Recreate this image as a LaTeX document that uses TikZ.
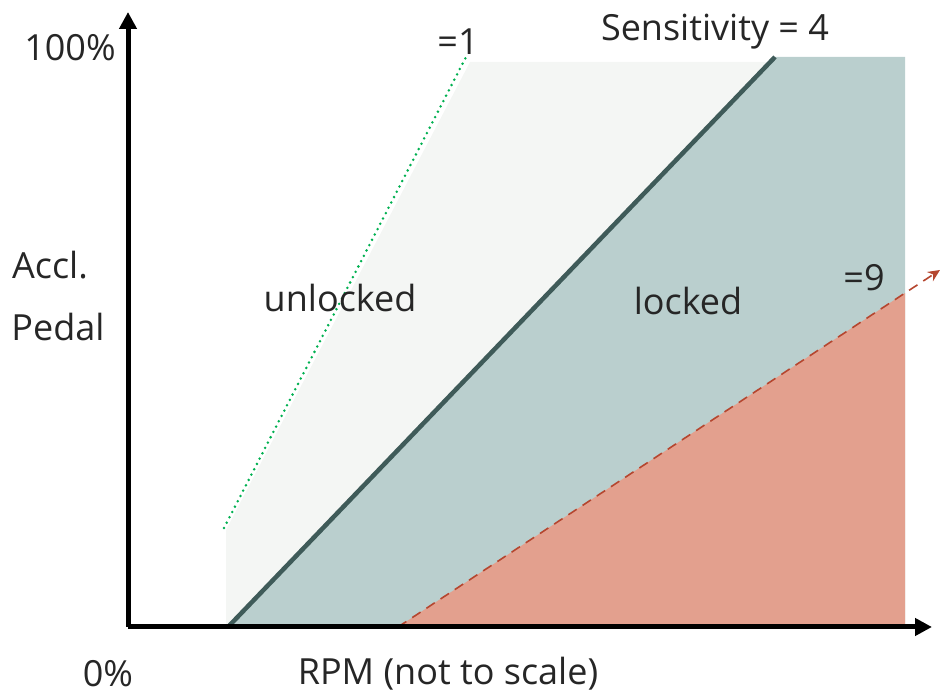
\documentclass[tikz,border=0pt]{standalone}
\usepackage{fontspec}
\setmainfont{Open Sans}
\usetikzlibrary{arrows.meta}
\definecolor{paleregion}{HTML}{F4F6F4}
\definecolor{lockregion}{HTML}{BACFCE}
\definecolor{hotregion}{HTML}{E3A08E}
\definecolor{senseline}{HTML}{3F5B59}
\definecolor{senseone}{HTML}{00B050}
\definecolor{sensenine}{HTML}{B5462F}
\definecolor{labeltext}{HTML}{262626}
\begin{document}
\begin{tikzpicture}[x=1pt,y=1pt,
  lbl/.style={font=\fontsize{36}{40}\selectfont,text=labeltext,inner sep=0pt},
  axis/.style={line width=5pt,-{Triangle[length=17pt,width=17pt]}}]
\useasboundingbox (0,0) rectangle (946,695);
% points of the chart
\coordinate (origin) at (128,68);
\coordinate (ytip) at (128,683);
\coordinate (xtip) at (932,68);
\coordinate (s4lo) at (228,68);
\coordinate (s4hi) at (775,638);
\coordinate (s1lo) at (224,167);
\coordinate (s1hi) at (466,638);
\coordinate (s9lo) at (398,68);
\coordinate (s9hi) at (940,425);
% regions
\fill [paleregion] (226,68) -- (226,165) -- (470,633) -- (775,633) -- (s4lo) -- cycle;
\fill [lockregion] (s4lo) -- (s4hi) -- (905,638) -- (905,68) -- cycle;
\fill [hotregion] (s9lo) -- (905,402) -- (905,68) -- cycle;
% sensitivity lines
\draw [senseline,line width=4.5pt] (s4lo) -- (s4hi);
\draw [senseone,line width=2.8pt,line cap=round,dash pattern=on 0pt off 6pt] (s1lo) -- (s1hi);
\draw [sensenine,line width=1.6pt,dash pattern=on 10pt off 7pt,-{Stealth[length=12pt,width=11pt]}] (s9lo) -- (s9hi);
% axes
\draw [axis] (origin) -- (ytip);
\draw [axis] (origin) -- (xtip);
% labels
\node [lbl] (top) at (70,647) {100\%};
\node [lbl] (zero) at (108,21) {0\%};
\node [lbl] (rpm) at (448,21) {RPM (not to scale)};
\node [lbl] (accl) at (50,430) {Accl.};
\node [lbl] (pedal) at (58,368) {Pedal};
\node [lbl] (unlocked) at (340,397) {unlocked};
\node [lbl] (locked) at (688,394) {locked};
\node [lbl] (one) at (458,653) {=1};
\node [lbl] (four) at (715,663) {Sensitivity = 4};
\node [lbl] (nine) at (864,417) {=9};
\end{tikzpicture}
\end{document}
